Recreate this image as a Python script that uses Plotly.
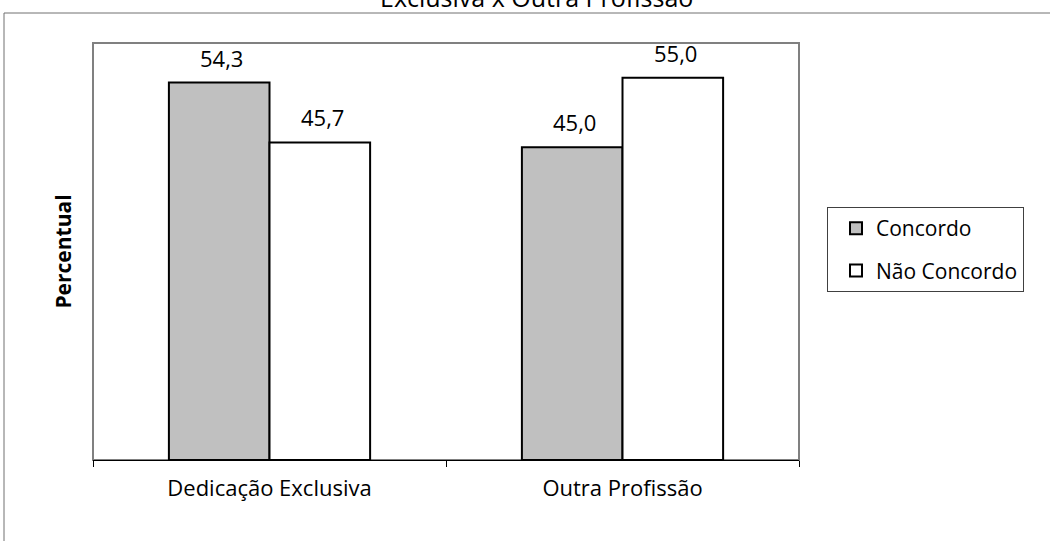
import plotly.graph_objects as go

categories = ["Dedicação Exclusiva", "Outra Profissão"]
concordo = [54.3, 45.0]
nao_concordo = [45.7, 55.0]
series_names = ["Concordo", "Não Concordo"]
title_text = "Exclusiva x Outra Profissão"
y_title = "Percentual"

FONT = "Open Sans"
W, H = 1050, 541
L, R, T, B = 93, 251, 43, 81
pw, ph = W - L - R, H - T - B

def px_x(p):
    return (p - L) / pw

def px_y(p):
    return (H - B - p) / ph

fig = go.Figure()
fig.add_trace(go.Bar(
    x=categories, y=concordo, name=series_names[0], legendgroup="a",
    marker=dict(color="#C0C0C0", line=dict(color="black", width=2)),
))
fig.add_trace(go.Bar(
    x=categories, y=nao_concordo, name=series_names[1], legendgroup="b",
    marker=dict(color="white", line=dict(color="black", width=2)),
))

# data labels above bars
half = 50.5
for vals, sh in ((concordo, -half), (nao_concordo, half)):
    for c, v in zip(categories, vals):
        fig.add_annotation(x=c, y=v, xref="x", yref="y", text=f"{v:.1f}".replace(".", ","),
                           showarrow=False, xshift=sh + 2, yanchor="bottom", yshift=8,
                           font=dict(size=22, family=FONT, color="black"))

# chart title (partly above the visible page, as in the reference)
fig.add_annotation(x=px_x(536), y=px_y(-3), xref="paper", yref="paper", text=title_text,
                   showarrow=False, xanchor="center", yanchor="middle",
                   font=dict(size=25, family=FONT, color="black"))

fig.update_layout(
    width=W, height=H,
    margin=dict(l=L, r=R, t=T, b=B, pad=0),
    paper_bgcolor="white", plot_bgcolor="white",
    separators=",.",
    font=dict(family=FONT, color="black", size=21),
    barmode="group", bargap=0.43, bargroupgap=0,
    legend=dict(x=px_x(827), y=px_y(207), xanchor="left", yanchor="top",
                bordercolor="#404040", borderwidth=1, bgcolor="white",
                font=dict(size=21, family=FONT), traceorder="grouped",
                tracegroupgap=12, itemwidth=30, indentation=8),
    showlegend=True,
)
fig.update_xaxes(
    showline=True, linecolor="black", linewidth=1,
    ticks="outside", tickson="boundaries", ticklen=6, tickcolor="black",
    tickfont=dict(size=22, family=FONT), ticklabelstandoff=9,
    showgrid=False, zeroline=False,
)
fig.update_yaxes(
    range=[0, 60], showticklabels=False, showgrid=False, zeroline=False,
    showline=False, ticks="",
    title=dict(text="<b>" + y_title + "</b>", font=dict(size=21, family=FONT), standoff=14),
)
# plot-area border (gray)
fig.add_shape(type="rect", xref="paper", yref="paper", x0=0, x1=1, y0=0, y1=1,
              line=dict(color="#808080", width=2), layer="below")
# outer chart-area border
fig.add_shape(type="rect", xref="paper", yref="paper",
              x0=px_x(4), x1=px_x(1060), y0=px_y(560), y1=px_y(13),
              line=dict(color="#707070", width=1), layer="below")

fig.write_html("out.html")
